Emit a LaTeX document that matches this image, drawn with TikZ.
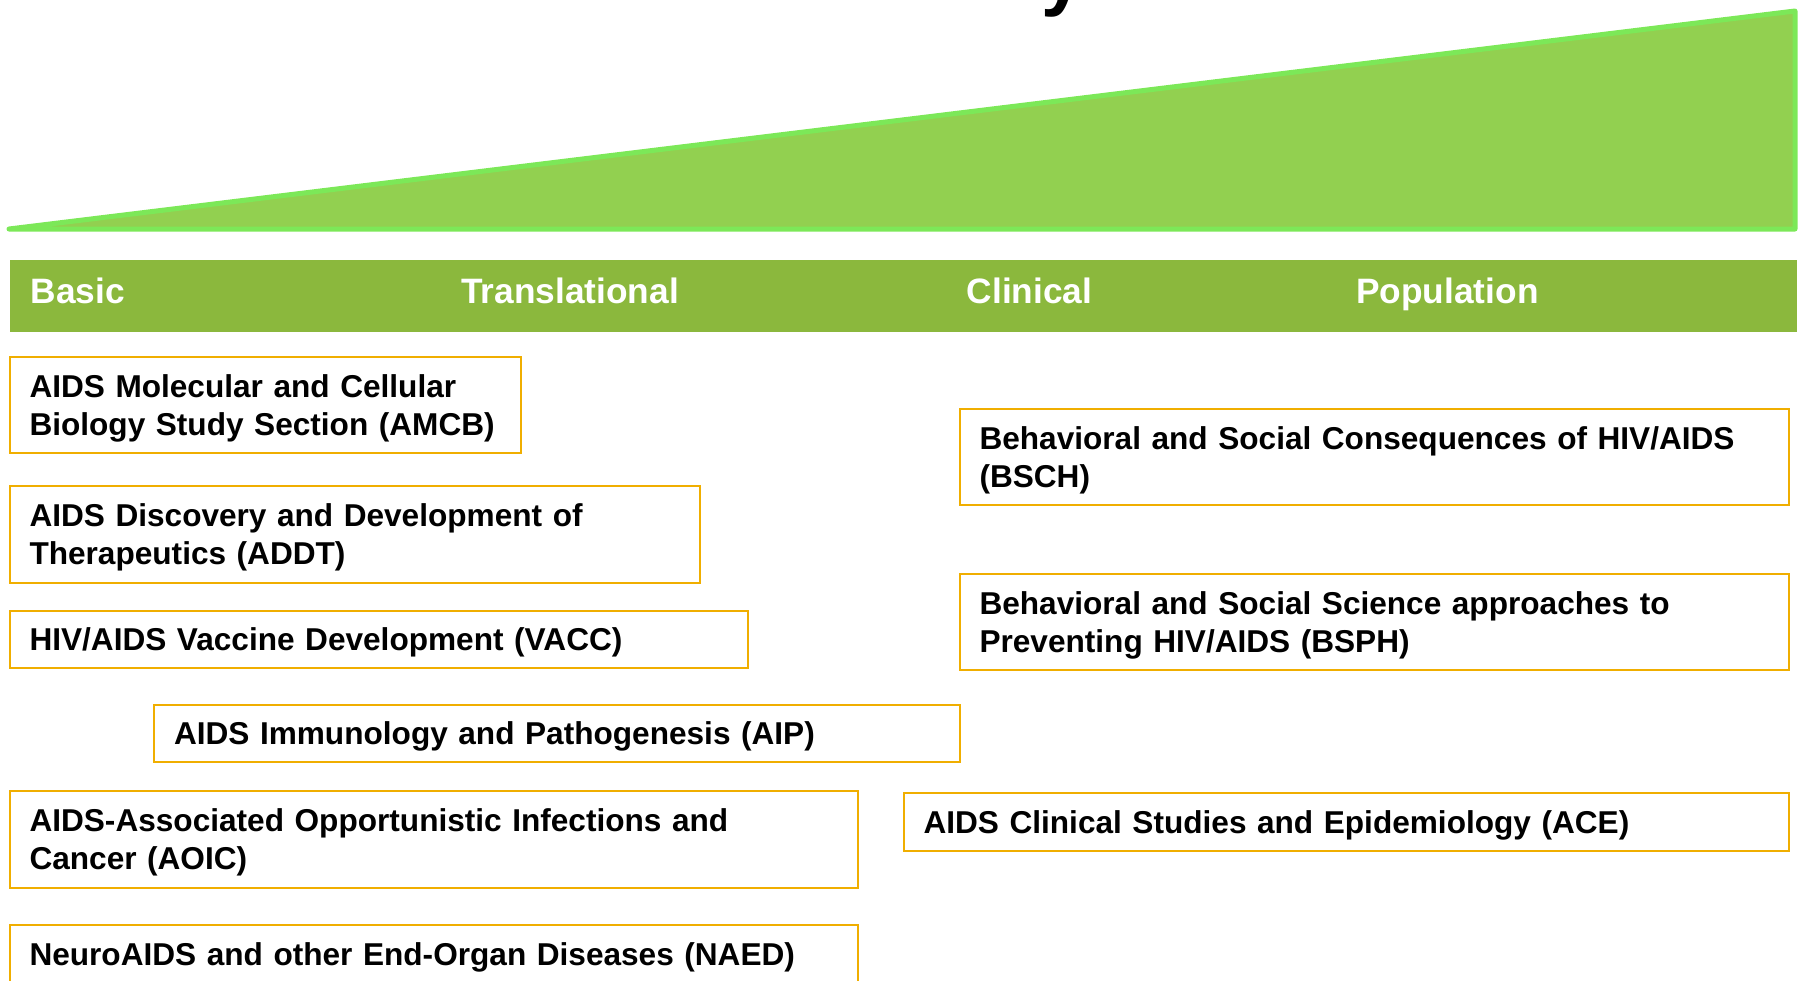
\documentclass[tikz,border=0pt]{standalone}
\usepackage{fontspec}
\setmainfont{Liberation Sans}
\definecolor{trifill}{RGB}{146,208,80}
\definecolor{triline}{RGB}{124,232,88}
\definecolor{bandc}{RGB}{139,184,61}
\definecolor{boxc}{RGB}{240,174,0}
\tikzset{
  sbox/.style={draw=boxc, line width=2pt, rectangle, anchor=north west, align=left,
    inner xsep=20pt, inner ysep=0pt, outer sep=0pt,
    font=\fontsize{31.6}{38}\selectfont\bfseries},
  onebox/.style={sbox, text depth=0pt, minimum height=57.5pt},
  twobox/.style={sbox, text depth=38pt, minimum height=96.5pt},
  bandlbl/.style={text=white, anchor=base west, inner sep=0pt,
    font=\fontsize{35.3}{40}\selectfont\bfseries}
}
\begin{document}
\begin{tikzpicture}[x=1pt,y=-1pt]
\useasboundingbox (0,0) rectangle (1802,980);
\clip (0,0) rectangle (1802,980);
% title fragment
\node[anchor=base west, inner sep=0pt, font=\fontsize{76}{80}\selectfont\bfseries] (title) at (1041,1) {y};
% wedge
\coordinate (tl) at (9,229);
\coordinate (tr) at (1795,11);
\coordinate (br) at (1795,229);
\draw[fill=trifill, draw=triline, line width=5pt, line join=round, line cap=round] (tl) -- (tr) -- (br) -- cycle;
% band
\node[fill=bandc, anchor=north west, minimum width=1787pt, minimum height=72.5pt, inner sep=0pt, outer sep=0pt] (band) at (9.5,259.5) {};
\node[bandlbl] (basic) at (30.5,303) {Basic};
\node[bandlbl] (transl) at (461,303) {Translational};
\node[bandlbl] (clin) at (966.5,303) {Clinical};
\node[bandlbl] (popu) at (1356,303) {Population};
% boxes
\node[twobox, text width=471pt] (amcb) at (9.5,356.5) {AIDS Molecular and Cellular\\Biology Study Section (AMCB)};
\node[twobox, text width=650pt] (addt) at (9.5,486) {AIDS Discovery and Development of\\Therapeutics (ADDT)};
\node[onebox, text width=698.5pt] (vacc) at (9.5,610.5) {HIV/AIDS Vaccine Development (VACC)};
\node[onebox, text width=765.5pt] (aip) at (154,704.5) {AIDS Immunology and Pathogenesis (AIP)};
\node[twobox, text width=808pt] (aoic) at (9.5,791) {AIDS-Associated Opportunistic Infections and\\Cancer (AOIC)};
\node[onebox, text width=808pt] (naed) at (9.5,925) {NeuroAIDS and other End-Organ Diseases (NAED)};
\node[twobox, text width=789pt] (bsch) at (959.5,408.5) {Behavioral and Social Consequences of HIV/AIDS\\(BSCH)};
\node[twobox, text width=789pt] (bsph) at (959.5,573.5) {Behavioral and Social Science approaches to\\Preventing HIV/AIDS (BSPH)};
\node[onebox, text width=845pt] (ace) at (903.5,793) {AIDS Clinical Studies and Epidemiology (ACE)};
\end{tikzpicture}
\end{document}
